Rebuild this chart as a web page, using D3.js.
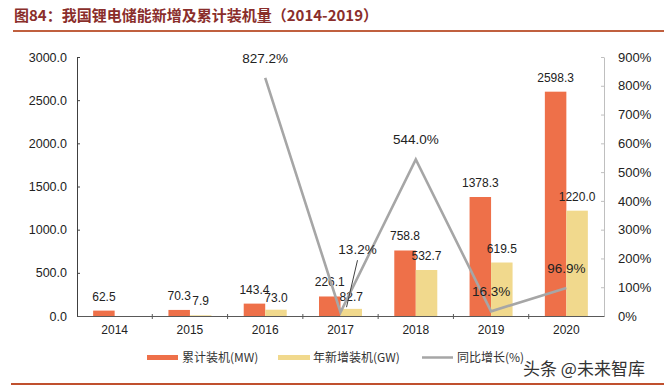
<!DOCTYPE html>
<html><head><meta charset="utf-8">
<script src="https://cdn.jsdelivr.net/npm/d3@7"></script>
<style>
body{margin:0;background:#fff;}
svg{display:block;}
</style></head>
<body>
<svg id="chart" width="664" height="391"></svg>
<script>
const years = ["2014","2015","2016","2017","2018","2019","2020"];
const cumulative = [62.5, 70.3, 143.4, 226.1, 758.8, 1378.3, 2598.3];
const annual = [null, 7.9, 73.0, 82.7, 532.7, 619.5, 1220.0];
const growth = [null, null, 827.2, 13.2, 544.0, 16.3, 96.9];
const leftTicks = [0, 500, 1000, 1500, 2000, 2500, 3000];
const rightTicks = [0, 100, 200, 300, 400, 500, 600, 700, 800, 900];
const seriesNames = ["累计装机(MW)", "年新增装机(GW)", "同比增长(%)"];
const title = "图84：我国锂电储能新增及累计装机量（2014-2019）";
const watermark = "头条 @未来智库";

const C_OR = "#EE7049", C_YE = "#F1D98D", C_GR = "#A6A6A6";
const svg = d3.select("#chart");
const L = 77, R = 604, T = 57, B = 316;

const x = d3.scaleBand().domain(years).range([L, R]).padding(0);
const yL = d3.scaleLinear().domain([0, 3000]).range([B, T]);
const yR = d3.scaleLinear().domain([0, 900]).range([B, T]);
const bw = 21.5;

// title
svg.append("text").attr("x", 14).attr("y", 21).attr("font-family", "Noto Sans CJK SC")
  .attr("font-weight", "bold").attr("font-size", 15).attr("fill", "#8A2E2B").text(title);
svg.append("line").attr("x1", 13).attr("x2", 664).attr("y1", 31).attr("y2", 31)
  .attr("stroke", "#C0603F").attr("stroke-width", 2);
svg.append("line").attr("x1", 11).attr("x2", 664).attr("y1", 384).attr("y2", 384)
  .attr("stroke", "#C0502E").attr("stroke-width", 2);

// left axis
const gL = svg.append("g").attr("transform", `translate(${L},0)`)
  .call(d3.axisLeft(yL).tickValues(leftTicks).tickFormat(d3.format(".1f")).tickSizeInner(-3).tickSizeOuter(0).tickPadding(10));
gL.select(".domain").attr("stroke", "#404040");
gL.selectAll(".tick line").attr("stroke", "#404040");
gL.selectAll("text").attr("font-family", "Liberation Sans, Arial").attr("font-size", 12.5).attr("fill", "#222");

// right axis
const gR = svg.append("g").attr("transform", `translate(${R},0)`)
  .call(d3.axisRight(yR).tickValues(rightTicks).tickFormat(d => d + "%").tickSizeInner(-3).tickSizeOuter(0).tickPadding(14));
gR.select(".domain").attr("stroke", "#BFBFBF");
gR.selectAll(".tick line").attr("stroke", "#BFBFBF");
gR.selectAll("text").attr("font-family", "Liberation Sans, Arial").attr("font-size", 13).attr("fill", "#222");

// x axis
const gX = svg.append("g").attr("transform", `translate(0,${B})`)
  .call(d3.axisBottom(x).tickSize(0).tickPadding(9));
gX.select(".domain").attr("stroke", "#595959");
gX.selectAll("text").attr("font-family", "Liberation Sans, Arial").attr("font-size", 12).attr("fill", "#222");
svg.append("g").selectAll("line").data(years.slice(1)).join("line")
  .attr("x1", d => x(d)).attr("x2", d => x(d)).attr("y1", B - 2).attr("y2", B + 3)
  .attr("stroke", "#595959");

// bars
svg.append("g").selectAll("rect").data(years).join("rect")
  .attr("x", d => x(d) + x.bandwidth() / 2 - bw).attr("width", bw)
  .attr("y", (d, i) => yL(cumulative[i])).attr("height", (d, i) => B - yL(cumulative[i]))
  .attr("fill", C_OR);
svg.append("g").selectAll("rect").data(years.filter((d, i) => annual[i] != null)).join("rect")
  .attr("x", d => x(d) + x.bandwidth() / 2).attr("width", bw)
  .attr("y", d => yL(annual[years.indexOf(d)])).attr("height", d => B - yL(annual[years.indexOf(d)]))
  .attr("fill", C_YE);

// bar labels
const lab = svg.append("g").attr("font-family", "Liberation Sans, Arial").attr("font-size", 12)
  .attr("fill", "#222").attr("text-anchor", "middle");
years.forEach((d, i) => {
  lab.append("text").attr("x", x(d) + x.bandwidth() / 2 - bw / 2).attr("y", yL(cumulative[i]) - 10)
    .text(cumulative[i].toFixed(1));
  if (annual[i] != null) {
    const extra = (annual[i] < 100 && annual[i] > 50) ? 2 : 0;
    lab.append("text").attr("x", x(d) + x.bandwidth() / 2 + bw / 2).attr("y", yL(annual[i]) - 10 + extra)
      .text(annual[i].toFixed(1));
  }
});

// growth line
const pts = years.map((d, i) => ({d, v: growth[i]})).filter(p => p.v != null);
const line = d3.line().x(p => x(p.d) + x.bandwidth() / 2).y(p => yR(p.v));
svg.append("path").datum(pts).attr("d", line).attr("fill", "none")
  .attr("stroke", C_GR).attr("stroke-width", 2.6).attr("stroke-linejoin", "miter");

const pl = svg.append("g").attr("font-family", "Liberation Sans, Arial").attr("font-size", 13.5)
  .attr("fill", "#222").attr("text-anchor", "middle");
pts.forEach(p => {
  const cx = x(p.d) + x.bandwidth() / 2, cy = yR(p.v);
  if (p.d === "2017") {
    pl.append("text").attr("x", cx + 17).attr("y", cy - 58).text(p.v.toFixed(1) + "%");
    svg.append("line").attr("x1", cx + 17).attr("y1", cy - 52).attr("x2", cx + 6).attr("y2", cy - 5)
      .attr("stroke", "#404040").attr("stroke-width", 1);
  } else {
    pl.append("text").attr("x", cx).attr("y", cy - 15).text(p.v.toFixed(1) + "%");
  }
});

// legend
const lg = svg.append("g").attr("font-family", "Noto Sans CJK SC").attr("font-size", 12).attr("fill", "#333");
lg.append("rect").attr("x", 147).attr("y", 355).attr("width", 31).attr("height", 5).attr("fill", C_OR);
lg.append("text").attr("x", 182).attr("y", 362).text(seriesNames[0]);
lg.append("rect").attr("x", 278).attr("y", 355).attr("width", 32).attr("height", 5).attr("fill", C_YE);
lg.append("text").attr("x", 313).attr("y", 362).text(seriesNames[1]);
lg.append("line").attr("x1", 422).attr("x2", 453).attr("y1", 357.5).attr("y2", 357.5).attr("stroke", C_GR).attr("stroke-width", 2.5);
lg.append("text").attr("x", 457).attr("y", 362).text(seriesNames[2]);

svg.append("text").attr("x", 523).attr("y", 375).attr("font-family", "Noto Sans CJK SC")
  .attr("font-size", 17).attr("fill", "#333").text(watermark);
</script>
</body></html>
